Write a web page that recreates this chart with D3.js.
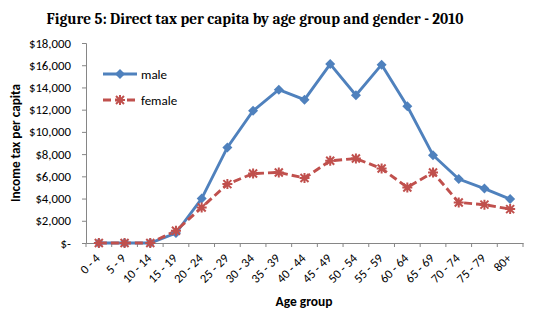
<!DOCTYPE html>
<html><head><meta charset="utf-8">
<script src="https://cdn.jsdelivr.net/npm/d3@7"></script>
<style>body{margin:0;background:#fff}svg{display:block}</style>
</head><body>
<svg id="c" width="550" height="328"></svg>
<script>
const categories = ["0 - 4","5 - 9","10 - 14","15 - 19","20 - 24","25 - 29","30 - 34","35 - 39","40 - 44","45 - 49","50 - 54","55 - 59","60 - 64","65 - 69","70 - 74","75 - 79","80+"];
const male = [0,0,0,900,4000,8600,11900,13800,12900,16100,13300,16050,12300,7900,5750,4900,3950];
const female = [0,0,0,1100,3200,5300,6250,6350,5850,7400,7600,6700,5000,6350,3650,3450,3050];
const yTicks = [0,2000,4000,6000,8000,10000,12000,14000,16000,18000];
const seriesNames = ["male","female"];
const colors = {male:"#4F81BD", female:"#C0504D"};

const svg = d3.select("#c");
const m = {l:86, r:523, t:43, b:243};
const x = d3.scaleBand().domain(categories).range([m.l, m.r]);
const y = d3.scaleLinear().domain([0,18000]).range([m.b, m.t]);
const font = "Calibri, Carlito, 'Liberation Sans', Arial, sans-serif";

svg.append("text").attr("x",255).attr("y",24).attr("text-anchor","middle")
  .attr("font-family","Cambria, Caladea, 'Liberation Serif', serif").attr("font-weight","bold")
  .attr("font-size",15.3).attr("fill","#000").text("Figure 5: Direct tax per capita by age group and gender - 2010");

const fmt = v => v===0 ? "$-" : "$" + d3.format(",")(v);
const ya = svg.append("g").attr("transform",`translate(${m.l},0)`)
  .call(d3.axisLeft(y).tickValues(yTicks).tickFormat(fmt).tickSize(4).tickPadding(11));
ya.select(".domain").attr("stroke","#868686");
ya.selectAll(".tick line").attr("stroke","#868686");
ya.selectAll("text").attr("font-family",font).attr("font-size",12.8).attr("fill","#000");

const xa = svg.append("g").attr("transform",`translate(0,${m.b})`)
  .call(d3.axisBottom(x).tickSize(0).tickFormat(""));
xa.select(".domain").attr("stroke","#868686");
xa.selectAll(".tick").remove();
const bounds = categories.map((c,i)=>x(c)).concat([m.r]);
xa.selectAll("line.tk").data(bounds).enter().append("line").attr("class","tk")
  .attr("x1",d=>d).attr("x2",d=>d).attr("y1",0).attr("y2",4).attr("stroke","#868686");
xa.selectAll("text.lb").data(categories).enter().append("text").attr("class","lb")
  .attr("transform",d=>`translate(${x(d)+x.bandwidth()/2+2},${16}) rotate(-45)`)
  .attr("text-anchor","end").attr("font-family",font).attr("font-size",12.5).attr("fill","#000")
  .text(d=>d);

svg.append("text").attr("transform","translate(19.5,143) rotate(-90)").attr("text-anchor","middle")
  .attr("font-family",font).attr("font-weight","bold").attr("font-size",13.2).text("Income tax per capita");
svg.append("text").attr("x",304).attr("y",306).attr("text-anchor","middle")
  .attr("font-family",font).attr("font-weight","bold").attr("font-size",13.5).text("Age group");

const cx = d => x(d)+x.bandwidth()/2;
const line = d3.line().x(d=>cx(d.c)).y(d=>y(d.v));
const data = {male: categories.map((c,i)=>({c,v:male[i]})), female: categories.map((c,i)=>({c,v:female[i]}))};

function diamond(g, px, py, col){
  g.append("path").attr("d",`M${px},${py-5}L${px+5},${py}L${px},${py+5}L${px-5},${py}Z`).attr("fill",col);
}
function star(g, px, py, col){
  const r=5;
  const p = `M${px-r},${py}L${px+r},${py}M${px},${py-r}L${px},${py+r}M${px-r*0.8},${py-r*0.8}L${px+r*0.8},${py+r*0.8}M${px-r*0.8},${py+r*0.8}L${px+r*0.8},${py-r*0.8}`;
  g.append("path").attr("d",p).attr("stroke",col).attr("stroke-width",2).attr("fill","none");
}

svg.append("path").datum(data.male).attr("d",line).attr("fill","none").attr("stroke",colors.male).attr("stroke-width",2.9);
svg.append("path").datum(data.female).attr("d",line).attr("fill","none").attr("stroke",colors.female).attr("stroke-width",2.9).attr("stroke-dasharray","8,4");
const gm = svg.append("g"), gf = svg.append("g");
data.male.forEach(d=>diamond(gm,cx(d.c),y(d.v),colors.male));
data.female.forEach(d=>star(gf,cx(d.c),y(d.v),colors.female));

// legend
const lg = svg.append("g");
const ly = [74,100];
seriesNames.forEach((s,i)=>{
  const l = lg.append("line").attr("x1",103).attr("x2",137).attr("y1",ly[i]).attr("y2",ly[i])
    .attr("stroke",colors[s]).attr("stroke-width",2.9);
  if(s==="female") l.attr("stroke-dasharray","8,4");
  if(s==="male") diamond(lg,120,ly[i],colors[s]); else star(lg,120,ly[i],colors[s]);
  lg.append("text").attr("x",141).attr("y",ly[i]+4.5).attr("font-family",font).attr("font-size",13).attr("fill","#000").text(s);
});
</script>
</body></html>
